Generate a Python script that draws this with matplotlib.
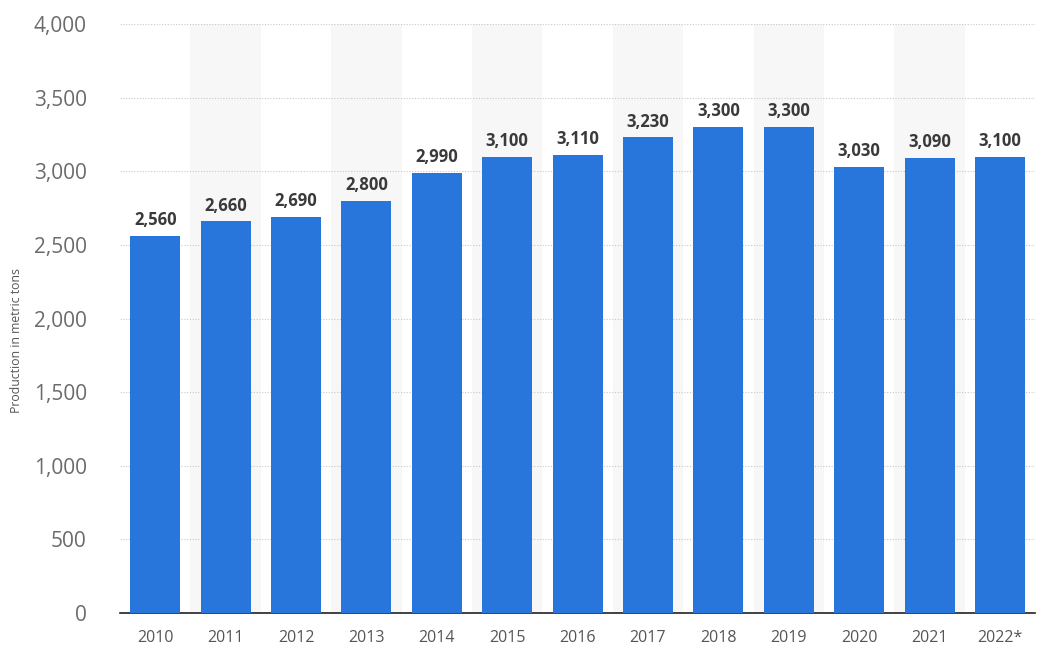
import matplotlib.pyplot as plt
import numpy as np

years = ["2010", "2011", "2012", "2013", "2014", "2015", "2016",
         "2017", "2018", "2019", "2020", "2021", "2022*"]
production = [2560, 2660, 2690, 2800, 2990, 3100, 3110,
              3230, 3300, 3300, 3030, 3090, 3100]
yticks = [0, 500, 1000, 1500, 2000, 2500, 3000, 3500, 4000]

plt.rcParams['font.family'] = ['Open Sans', 'DejaVu Sans']

fig = plt.figure(figsize=(10.53, 6.58), dpi=100)
ax = fig.add_axes([0.114, 0.0684, 0.869, 0.8951])

x = np.arange(len(years))

# alternating column shading
for i in x:
    if i % 2 == 1:
        ax.axvspan(i - 0.5, i + 0.5, color="#f7f7f7", zorder=0, lw=0)

ax.bar(x, production, width=0.71, color="#2875dc", zorder=3)

for xi, v in zip(x, production):
    ax.text(xi, v + 45, f"{v:,}", ha="center", va="bottom",
            fontsize=12, fontweight="bold", color="#3a3a3a", zorder=4)

ax.set_xlim(-0.5, len(years) - 0.5)
ax.set_ylim(0, 4000)
ax.set_yticks(yticks)
ax.set_yticklabels([f"{t:,}" for t in yticks])
ax.set_xticks(x)
ax.set_xticklabels(years)

ax.grid(axis="y", color="#c8c8c8", linestyle=(0, (1, 1.5)), linewidth=0.8, zorder=1)
ax.set_axisbelow(True)

for s in ["top", "right", "left"]:
    ax.spines[s].set_visible(False)
ax.spines["bottom"].set_color("#222222")
ax.spines["bottom"].set_linewidth(1.2)

ax.tick_params(axis="y", length=0, labelsize=15, labelcolor="#6b6b6b", pad=24)
ax.tick_params(axis="x", length=0, labelsize=11.5, labelcolor="#555555", pad=12)

ax.set_ylabel("Production in metric tons", fontsize=8.8, color="#555555")
ax.yaxis.set_label_coords(-0.106, 0.4635)

fig.savefig("out.png", dpi=100)
